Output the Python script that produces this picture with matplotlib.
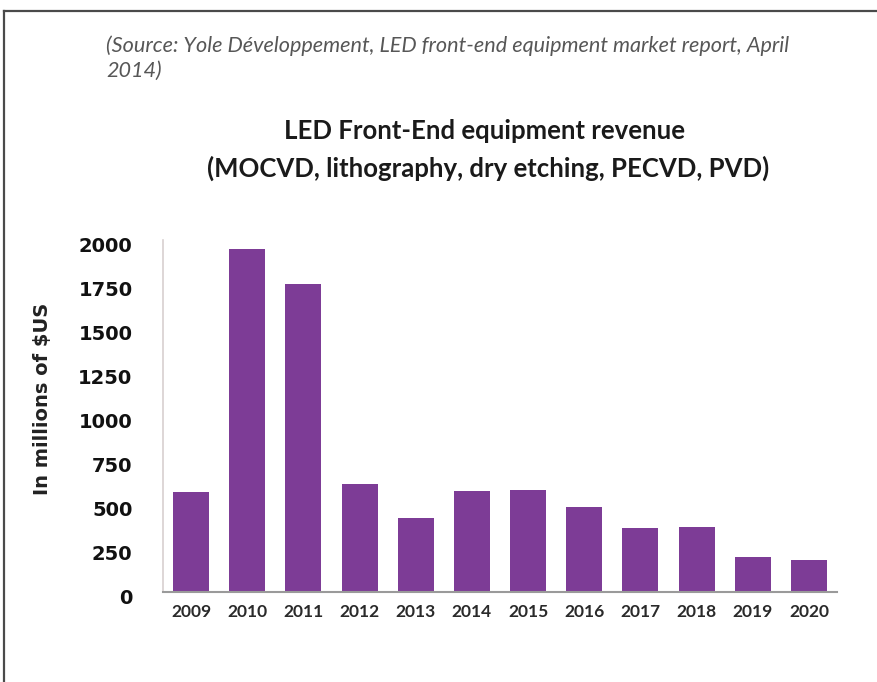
import matplotlib
matplotlib.use("Agg")
import matplotlib.pyplot as plt
from matplotlib.lines import Line2D
from matplotlib.transforms import ScaledTranslation

years = ["2009", "2010", "2011", "2012", "2013", "2014",
         "2015", "2016", "2017", "2018", "2019", "2020"]
revenue = [565, 1950, 1750, 610, 420, 570, 580, 480, 365, 370, 200, 180]
y_ticks = [0, 250, 500, 750, 1000, 1250, 1500, 1750, 2000]

W, H = 877, 682
fig = plt.figure(figsize=(W / 100, H / 100), dpi=100)
fig.patch.set_facecolor("white")


def fx(px):
    return px / W


def fy(py):
    return 1 - py / H


# frame around the figure (top and left edges)
fig.add_artist(Line2D([fx(4), fx(877)], [fy(11), fy(11)], color="#4a4a4a", lw=1.6,
                      transform=fig.transFigure))
fig.add_artist(Line2D([fx(4), fx(4)], [fy(11), fy(682)], color="#4a4a4a", lw=1.6,
                      transform=fig.transFigure))

# source note
src_kw = dict(fontsize=15.6, fontstyle="italic", color="#575757", family="Lato",
              ha="left", va="center")
fig.text(fx(106), fy(46),
         "(Source: Yole Développement, LED front-end equipment market report, April",
         **src_kw)
fig.text(fx(106), fy(71), "2014)", **src_kw)

# chart title
title_kw = dict(fontsize=18.5, fontweight="bold", color="#1a1a1a", family="Lato",
                ha="center", va="center")
fig.text(fx(485), fy(131), "LED Front-End equipment revenue", **title_kw)
fig.text(fx(488), fy(168), "(MOCVD, lithography, dry etching, PECVD, PVD)", **title_kw)

ax = fig.add_axes([fx(163), fy(591.7), fx(837) - fx(163), fy(240) - fy(591.7)])
x = list(range(len(years)))
ax.bar(x, revenue, width=0.64, color="#7D3C96", zorder=2)

ax.set_xlim(-0.5, len(years) - 0.5)
ax.set_ylim(0, 2000)
ax.set_xticks(x)
ax.set_xticklabels(years, fontsize=12.5, fontweight="bold", color="#2a2a2a",
                   family="Lato")
ax.set_yticks(y_ticks)
ax.set_yticklabels([str(v) for v in y_ticks], fontsize=14, fontweight="bold",
                   color="#111111", family="DejaVu Sans")
ax.tick_params(axis="both", length=0)
ax.tick_params(axis="y", pad=22)
ax.tick_params(axis="x", pad=9)

# value labels on the y axis sit slightly below their gridline positions
shift = ScaledTranslation(0, -5 / 100, fig.dpi_scale_trans)
for lbl in ax.get_yticklabels():
    lbl.set_transform(lbl.get_transform() + shift)

for side in ("top", "right"):
    ax.spines[side].set_visible(False)
ax.spines["left"].set_color("#d8d0d0")
ax.spines["bottom"].set_color("#9a9a9a")
ax.spines["left"].set_linewidth(1.2)
ax.spines["bottom"].set_linewidth(1.5)

fig.text(fx(43), fy(399), "In millions of $US", rotation=90, fontsize=14,
         fontweight="bold", color="#222222", family="DejaVu Sans",
         ha="center", va="center")

fig.savefig("out.png", dpi=100)
